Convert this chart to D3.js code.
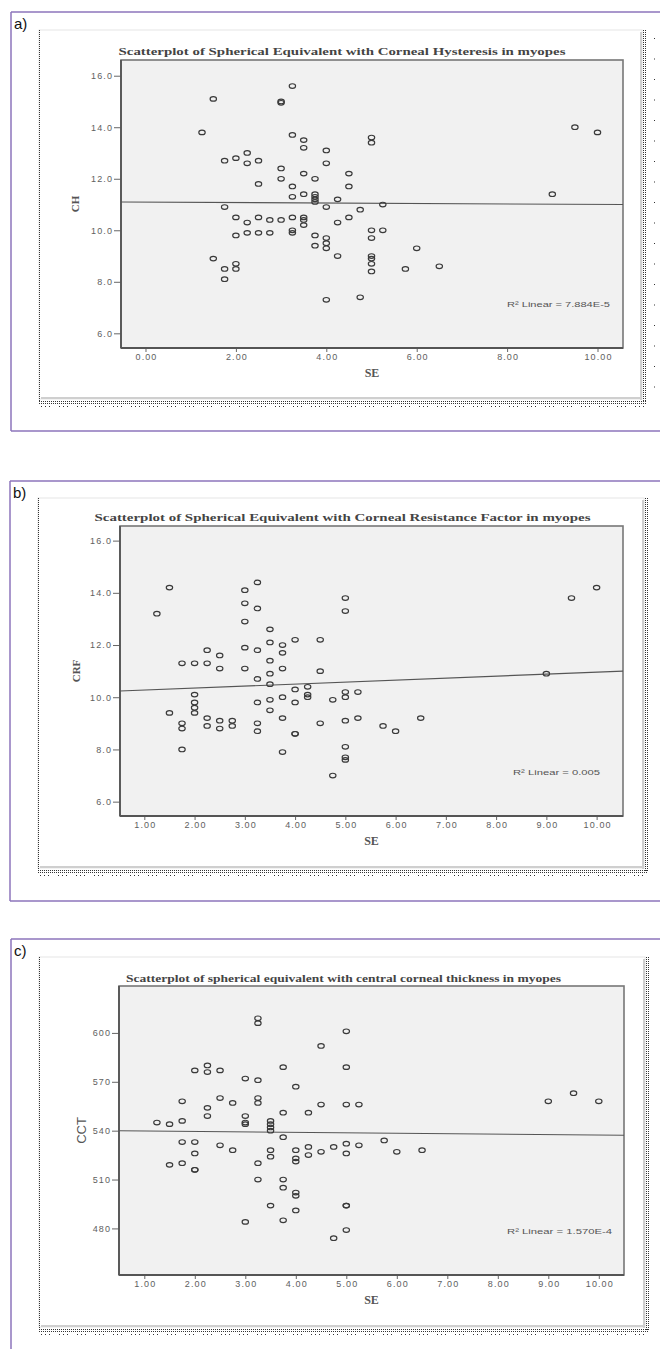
<!DOCTYPE html>
<meta charset="utf-8">
<style>
body { margin: 0; background: #fff; }
.tick text { font-family: "Liberation Sans", Arial, sans-serif; font-size: 9px; fill: #5e5e5e; letter-spacing: 1.1px; }
.tick line { stroke: #666; stroke-width: 1px; }
.title { font-family: "Liberation Serif", serif; font-weight: bold; font-size: 11px; fill: #444; }
.axlab { font-family: "Liberation Serif", serif; font-weight: bold; fill: #555; }
.r2 { font-family: "Liberation Sans", Arial, sans-serif; font-size: 8px; fill: #555; }
.letter { font-family: "Liberation Sans", Arial, sans-serif; font-size: 15px; fill: #111; }
.pt { fill: none; stroke: #3a3a3a; stroke-width: 1.15px; }
.fit { stroke: #555; stroke-width: 1.1px; fill: none; }
</style>
<svg width="660" height="1349"></svg>
<script src="https://d3js.org/d3.v7.min.js"></script>
<script>

// panel a) spherical equivalent vs corneal hysteresis
const seA = [3.25, 1.5, 3.0, 3.0, 1.25, 3.25, 3.5, 5.0, 5.0, 3.5, 4.0, 2.25, 1.75, 2.0, 2.25, 2.5, 4.0, 3.0, 3.0, 3.5,
  3.75, 4.5, 2.5, 3.25, 4.5, 3.25, 3.5, 3.75, 3.75, 3.75, 3.75, 4.25, 1.75, 4.0, 4.75, 5.25, 2.0, 2.25, 2.5, 2.75,
  3.0, 3.25, 3.5, 3.5, 3.5, 4.25, 4.5, 2.0, 2.25, 2.5, 2.75, 3.25, 3.25, 3.75, 3.75, 4.0, 4.0, 4.0, 5.0, 5.25,
  5.0, 6.0, 4.25, 5.0, 5.0, 5.0, 5.0, 5.75, 1.5, 1.75, 2.0, 2.0, 1.75, 4.0, 4.75, 6.5, 9.0, 9.5, 10.0];
const chA = [15.6, 15.1, 15.0, 14.95, 13.8, 13.7, 13.5, 13.6, 13.4, 13.2, 13.1, 13.0, 12.7, 12.8, 12.6, 12.7, 12.6, 12.4, 12.0, 12.2,
  12.0, 12.2, 11.8, 11.7, 11.7, 11.3, 11.4, 11.4, 11.3, 11.2, 11.1, 11.2, 10.9, 10.9, 10.8, 11.0, 10.5, 10.3, 10.5, 10.4,
  10.4, 10.5, 10.5, 10.4, 10.2, 10.3, 10.5, 9.8, 9.9, 9.9, 9.9, 10.0, 9.9, 9.8, 9.4, 9.7, 9.5, 9.3, 10.0, 10.0,
  9.7, 9.3, 9.0, 9.0, 8.9, 8.7, 8.4, 8.5, 8.9, 8.5, 8.7, 8.5, 8.1, 7.3, 7.4, 8.6, 11.4, 14.0, 13.8];

// panel b) spherical equivalent vs corneal resistance factor
const seB = [1.25, 1.5, 1.5, 1.75, 1.75, 1.75, 1.75, 2.0, 2.0, 2.0, 2.0, 2.0, 2.25, 2.25, 2.25, 2.25, 2.5, 2.5, 2.5, 2.5,
  2.75, 2.75, 3.0, 3.0, 3.0, 3.0, 3.0, 3.25, 3.25, 3.25, 3.25, 3.25, 3.25, 3.25, 3.5, 3.5, 3.5, 3.5, 3.5, 3.5,
  3.5, 3.75, 3.75, 3.75, 3.75, 3.75, 3.75, 4.0, 4.0, 4.0, 4.0, 4.0, 4.25, 4.25, 4.25, 4.5, 4.5, 4.5, 4.75, 4.75,
  5.0, 5.0, 5.0, 5.0, 5.25, 5.0, 5.25, 5.75, 6.0, 6.5, 5.0, 5.0, 5.0, 9.0, 9.5, 10.0];
const crfB = [13.2, 14.2, 9.4, 11.3, 9.0, 8.8, 8.0, 11.3, 10.1, 9.8, 9.6, 9.4, 11.8, 11.3, 9.2, 8.9, 11.6, 11.1, 9.1, 8.8,
  9.1, 8.9, 14.1, 13.6, 12.9, 11.9, 11.1, 14.4, 13.4, 11.8, 10.7, 9.8, 9.0, 8.7, 12.6, 12.1, 11.4, 10.9, 10.5, 9.9,
  9.5, 12.0, 11.7, 11.1, 10.0, 9.2, 7.9, 12.2, 10.3, 9.8, 8.6, 8.6, 10.4, 10.1, 10.0, 12.2, 11.0, 9.0, 9.9, 7.0,
  13.8, 13.3, 10.2, 10.0, 10.2, 9.1, 9.2, 8.9, 8.7, 9.2, 8.1, 7.7, 7.6, 10.9, 13.8, 14.2];

// panel c) spherical equivalent vs central corneal thickness
const seC = [1.25, 1.5, 1.75, 1.75, 1.75, 1.75, 1.5, 2.0, 2.0, 2.0, 2.0, 2.0, 2.25, 2.25, 2.25, 2.25, 2.5, 2.5, 2.5, 2.75,
  2.75, 3.0, 3.0, 3.0, 3.0, 3.0, 3.25, 3.25, 3.25, 3.25, 3.25, 3.25, 3.25, 3.5, 3.5, 3.5, 3.5, 3.5, 3.5, 3.5,
  3.75, 3.75, 3.75, 3.75, 3.75, 3.75, 4.0, 4.0, 4.0, 4.0, 4.0, 4.0, 4.0, 4.25, 4.25, 4.25, 4.5, 4.5, 4.5, 4.75,
  4.75, 5.0, 5.0, 5.0, 5.25, 5.0, 5.0, 5.25, 5.75, 6.0, 6.5, 5.0, 5.0, 5.0, 9.0, 9.5, 10.0];
const cctC = [545, 544, 546, 558, 533, 520, 519, 577, 533, 526, 516, 516, 580, 576, 554, 549, 577, 560, 531, 557,
  528, 572, 549, 545, 544, 484, 609, 606, 571, 560, 557, 520, 510, 546, 544, 542, 540, 528, 524, 494,
  579, 551, 536, 510, 505, 485, 567, 528, 523, 521, 502, 500, 491, 551, 530, 525, 592, 556, 527, 530,
  474, 601, 579, 556, 556, 532, 526, 531, 534, 527, 528, 494, 494, 479, 558, 563, 558];

// tick labels
const xTicksA = [0, 2, 4, 6, 8, 10];
const xTicksBC = [1, 2, 3, 4, 5, 6, 7, 8, 9, 10];
const yTicksAB = [6, 8, 10, 12, 14, 16];
const yTicksC = [480, 510, 540, 570, 600];

// texts
const letters = ["a)", "b)", "c)"];
const titles = [
  "Scatterplot of Spherical Equivalent with Corneal Hysteresis in myopes",
  "Scatterplot of Spherical Equivalent with Corneal Resistance Factor in myopes",
  "Scatterplot of spherical equivalent with central corneal thickness in myopes"
];
const yLabels = ["CH", "CRF", "CCT"];
const r2Labels = ["R\u00B2 Linear = 7.884E-5", "R\u00B2 Linear = 0.005", "R\u00B2 Linear = 1.570E-4"];

// fit lines: [intercept, slope]
const fitA = [11.095, -0.009];
const fitB = [10.20, 0.076];
const fitC = [540.05, -0.27];

const svg = d3.select("svg");
const purple = "#8c74bb";

const panels = [
  { top: 12, left: 11, bottom: 431, img: [39, 30, 645, 402], plot: [121, 60, 623, 348],
    xd: [-0.542, 10.564], yd: [5.43, 16.61], xt: xTicksA, yt: yTicksAB, xf: ".2f", yf: ".1f",
    se: seA, val: chA, fit: fitA, titleY: 55, titleW: 447, labX: 75, labSize: 11, labSans: false,
    xlabY: 377, r2: [507, 307, 103], sparse: true },
  { top: 481, left: 10, bottom: 901, img: [38, 498, 647, 871], plot: [120, 526, 623, 816],
    xd: [0.516, 10.525], yd: [5.45, 16.56], xt: xTicksBC, yt: yTicksAB, xf: ".2f", yf: ".1f",
    se: seB, val: crfB, fit: fitB, titleY: 521, titleW: 496, labX: 76, labSize: 11, labSans: false,
    xlabY: 845, r2: [513, 775, 87], sparse: false },
  { top: 939, left: 11, bottom: null, img: [39, 957, 648, 1330], plot: [119, 986, 624, 1275],
    xd: [0.499, 10.499], yd: [451.4, 628.8], xt: xTicksBC, yt: yTicksC, xf: ".2f", yf: "d",
    se: seC, val: cctC, fit: fitC, titleY: 982, titleW: 435, labX: 81, labSize: 13, labSans: true,
    xlabY: 1304, r2: [507, 1234, 105], sparse: false }
];

panels.forEach((p, i) => {
  const g = svg.append("g");

  // purple frame
  g.append("line").attr("x1", p.left).attr("x2", 660).attr("y1", p.top).attr("y2", p.top)
    .attr("stroke", purple).attr("stroke-width", 1.5);
  g.append("line").attr("x1", p.left).attr("x2", p.left).attr("y1", p.top).attr("y2", p.bottom || 1349)
    .attr("stroke", purple).attr("stroke-width", 1.5);
  if (p.bottom) {
    g.append("line").attr("x1", p.left).attr("x2", 660).attr("y1", p.bottom).attr("y2", p.bottom)
      .attr("stroke", purple).attr("stroke-width", 1.5);
  }
  g.append("text").attr("class", "letter").attr("x", p.left + 3).attr("y", p.top + 17).text(letters[i]);

  // image area with dotted edges
  const [ix0, iy0, ix1, iy1] = p.img;
  g.append("rect").attr("x", ix0).attr("y", iy0).attr("width", ix1 - ix0 - 3).attr("height", iy1 - iy0 - 3)
    .attr("fill", "#fff").attr("stroke", "#e6e6e6");
  g.append("line").attr("x1", ix1 - 4).attr("x2", ix1 - 4).attr("y1", iy0 + 2).attr("y2", iy1 - 2)
    .attr("stroke", "#cfcfcf").attr("stroke-width", 2);
  g.append("line").attr("x1", ix0 + 2).attr("x2", ix1 - 3).attr("y1", iy1 - 4).attr("y2", iy1 - 4)
    .attr("stroke", "#cfcfcf").attr("stroke-width", 2);
  const dots = (x1, y1, x2, y2, dash) => g.append("line")
    .attr("x1", x1).attr("y1", y1).attr("x2", x2).attr("y2", y2)
    .attr("stroke", "#333").attr("stroke-width", 1).attr("stroke-dasharray", dash);
  dots(ix0 + 0.5, iy0, ix0 + 0.5, iy1, "1,1");
  dots(ix1 - 1.5, iy0, ix1 - 1.5, iy1, "1,1");
  dots(ix1 + 0.5, iy0, ix1 + 0.5, iy1, "1,1");
  dots(ix0, iy1 - 0.5, ix1 + 1, iy1 - 0.5, "1,1");
  dots(ix0, iy1 + 1.5, ix1 + 1, iy1 + 1.5, "1,1");
  dots(ix0 + 2, iy1 + 4.5, ix1, iy1 + 4.5, "1,3,1,3,1,9");
  if (p.sparse) dots(ix1 + 9.5, iy0 + 8, ix1 + 9.5, iy1, "1,19.5");

  // plot area
  const [px0, py0, px1, py1] = p.plot;
  const x = d3.scaleLinear().domain(p.xd).range([px0, px1]);
  const y = d3.scaleLinear().domain(p.yd).range([py1, py0]);

  g.append("rect").attr("x", px0).attr("y", py0).attr("width", px1 - px0).attr("height", py1 - py0)
    .attr("fill", "#f1f1f1").attr("stroke", "#777").attr("stroke-width", 1.6);

  g.append("text").attr("class", "title").attr("x", (ix0 + ix1) / 2).attr("y", p.titleY)
    .attr("text-anchor", "middle").attr("textLength", p.titleW).attr("lengthAdjust", "spacingAndGlyphs")
    .text(titles[i]);

  const yAxis = g.append("g").attr("transform", `translate(${px0},0)`)
    .call(d3.axisLeft(y).tickValues(p.yt).tickSize(7).tickPadding(1).tickFormat(d3.format(p.yf)));
  yAxis.select(".domain").remove();

  const xAxis = g.append("g").attr("transform", `translate(0,${py1})`)
    .call(d3.axisBottom(x).tickValues(p.xt).tickSize(4).tickPadding(2).tickFormat(d3.format(p.xf)));
  xAxis.select(".domain").remove();
  xAxis.selectAll(".tick text").attr("dx", "0.5px");

  // axis lines
  g.append("line").attr("x1", px0).attr("x2", px0).attr("y1", py0).attr("y2", py1)
    .attr("stroke", "#555").attr("stroke-width", 1.8);
  g.append("line").attr("x1", px0).attr("x2", px1).attr("y1", py1).attr("y2", py1)
    .attr("stroke", "#555").attr("stroke-width", 1.8);

  // fit line
  const line = d3.line().x(d => x(d)).y(d => y(p.fit[0] + p.fit[1] * d));
  g.append("path").datum(p.xd).attr("class", "fit").attr("d", line);

  // points
  g.append("g").selectAll("ellipse")
    .data(p.se.map((s, k) => [s, p.val[k]]))
    .join("ellipse")
    .attr("class", "pt")
    .attr("cx", d => x(d[0]))
    .attr("cy", d => y(d[1]))
    .attr("rx", 3.2).attr("ry", 2.3);

  g.append("text").attr("class", "r2").attr("x", p.r2[0]).attr("y", p.r2[1])
    .attr("textLength", p.r2[2]).attr("lengthAdjust", "spacingAndGlyphs").text(r2Labels[i]);

  // axis titles
  g.append("text").attr("class", "axlab").attr("x", (px0 + px1) / 2).attr("y", p.xlabY)
    .attr("text-anchor", "middle").style("font-size", "12px").text("SE");

  const yl = g.append("text")
    .attr("transform", `translate(${p.labX},${(py0 + py1) / 2}) rotate(-90)`)
    .attr("text-anchor", "middle").attr("dy", "0.35em")
    .style("font-size", p.labSize + "px")
    .text(yLabels[i]);
  if (p.labSans) {
    yl.style("font-family", "'Liberation Sans', Arial, sans-serif").style("fill", "#555");
  } else {
    yl.attr("class", "axlab");
  }
});

</script>
